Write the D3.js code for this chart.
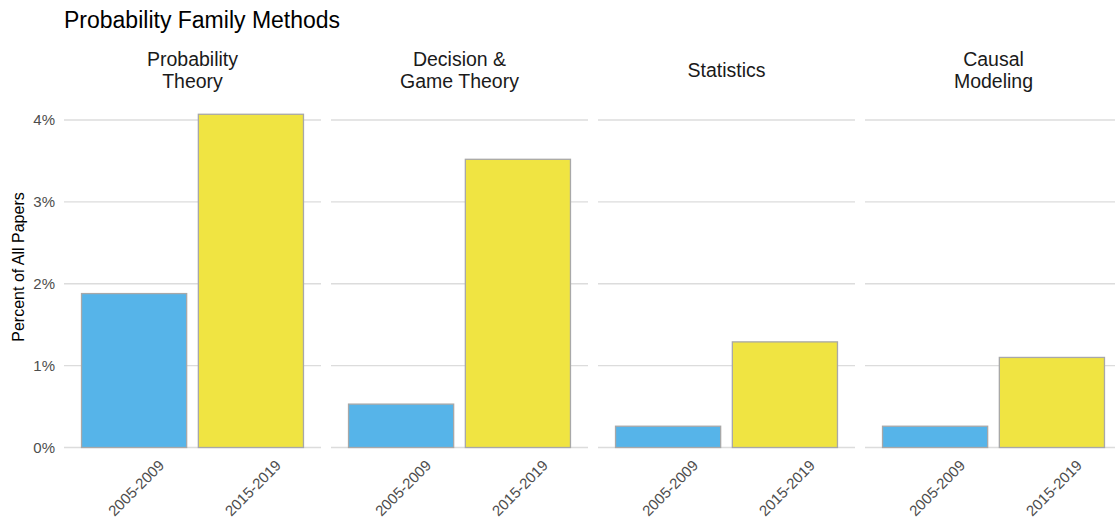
<!DOCTYPE html>
<html>
<head>
<meta charset="utf-8">
<script src="https://cdn.jsdelivr.net/npm/d3@7"></script>
<style>
    body { margin: 0; background: #fff; }
    text { font-family: "Liberation Sans", Arial, Helvetica, sans-serif; }
</style>
</head>
<body>
<div id="chart"></div>
<script>
// data
var facets = [['Probability', 'Theory'], ['Decision &', 'Game Theory'], ['Statistics'], ['Causal', 'Modeling']];
var periods = ['2005-2009', '2015-2019'];
var early = [1.88, 0.53, 0.26, 0.26];
var late = [4.07, 3.52, 1.29, 1.10];
var yTicks = [0, 1, 2, 3, 4];
var colors = ['#56B4E9', '#F0E442'];

var _w = 1115, _h = 519;
var _panelLeft = 64, _panelStep = 267, _panelW = 257;

var svg = d3.select('#chart').append('svg')
    .attr('width', _w).attr('height', _h);

svg.append('text')
    .attr('x', 64).attr('y', 28)
    .style('font-size', '23px').style('fill', '#000')
    .text('Probability Family Methods');

var y = d3.scaleLinear().domain([0, 4]).range([447.5, 120]);

// y axis labels
svg.append('g').selectAll('text')
    .data(yTicks).enter().append('text')
    .attr('x', 55).attr('y', function (d) { return y(d); })
    .attr('dy', '0.35em')
    .attr('text-anchor', 'end')
    .style('font-size', '15px').style('fill', '#4d4d4d')
    .text(function (d) { return d + '%'; });

svg.append('text')
    .attr('transform', 'translate(24,267) rotate(-90)')
    .attr('text-anchor', 'middle')
    .style('font-size', '16px').style('fill', '#000')
    .text('Percent of All Papers');

facets.forEach(function (lines, i) {
    var x0 = _panelLeft + i * _panelStep;
    var g = svg.append('g').attr('transform', 'translate(' + x0 + ',0)');
    // ggplot style discrete scale: 0.6 units of room each side, bars 0.9 wide
    var x = d3.scaleBand().domain(periods).range([0, _panelW])
        .paddingInner(0.1).paddingOuter(0.15);

    g.selectAll('line.grid')
        .data(yTicks).enter().append('line')
        .attr('class', 'grid')
        .attr('x1', 0).attr('x2', _panelW)
        .attr('y1', function (d) { return y(d); })
        .attr('y2', function (d) { return y(d); })
        .style('stroke', '#dcdcdc').style('stroke-width', 1.3);

    var vals = [early[i], late[i]];
    g.selectAll('rect')
        .data(periods).enter().append('rect')
        .attr('x', function (d) { return x(d); })
        .attr('width', x.bandwidth())
        .attr('y', function (d, j) { return y(vals[j]); })
        .attr('height', function (d, j) { return y(0) - y(vals[j]); })
        .style('fill', function (d, j) { return colors[j]; })
        .style('stroke', '#a8a8a8').style('stroke-width', 1.3);

    g.selectAll('text.tick')
        .data(periods).enter().append('text')
        .attr('class', 'tick')
        .attr('transform', function (d) {
            return 'translate(' + (x(d) + x.bandwidth() / 2 + 2) + ',488) rotate(-45)';
        })
        .attr('text-anchor', 'middle')
        .attr('dy', '0.35em')
        .style('font-size', '15px').style('fill', '#4d4d4d')
        .text(function (d) { return d; });

    var base = lines.length == 1 ? 77 : 66;
    g.selectAll('text.strip')
        .data(lines).enter().append('text')
        .attr('class', 'strip')
        .attr('x', _panelW / 2)
        .attr('y', function (d, j) { return base + j * 22; })
        .attr('text-anchor', 'middle')
        .style('font-size', '19.5px').style('fill', '#1a1a1a')
        .text(function (d) { return d; });
});
</script>
</body>
</html>
